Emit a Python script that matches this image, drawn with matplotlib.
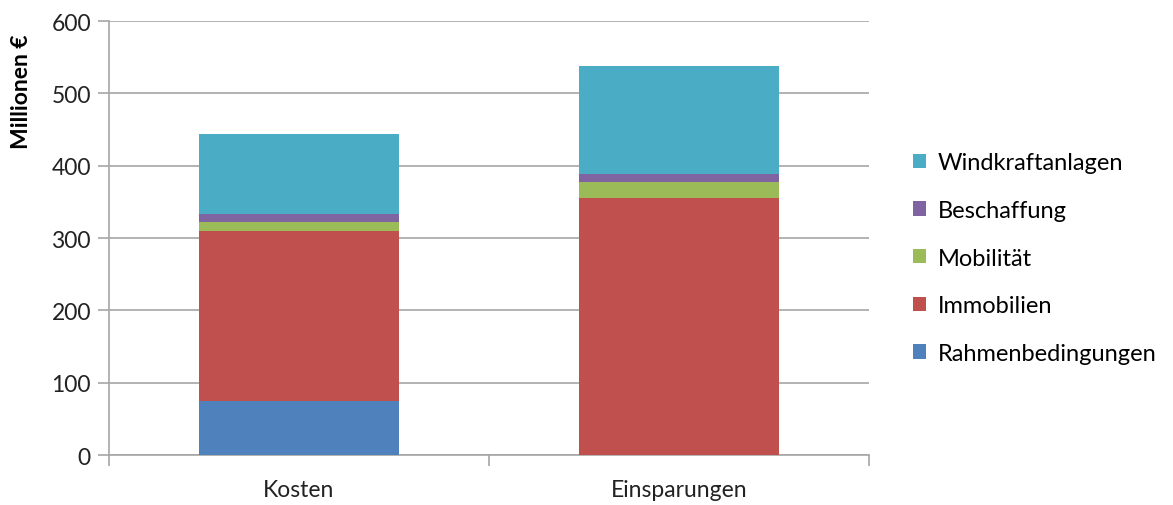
import matplotlib
matplotlib.use("Agg")
import matplotlib.pyplot as plt
import numpy as np

plt.rcParams['font.family'] = ['Lato', 'DejaVu Sans']

categories = ["Kosten", "Einsparungen"]
series = ["Rahmenbedingungen", "Immobilien", "Mobilität", "Beschaffung", "Windkraftanlagen"]
rahmen = [75, 0]
immobilien = [235, 355]
mobilitaet = [12, 22]
beschaffung = [11, 11]
windkraft = [111, 150]
colors = ["#4F81BD", "#C0504D", "#9BBB59", "#8064A2", "#4BACC6"]

values = [rahmen, immobilien, mobilitaet, beschaffung, windkraft]

fig = plt.figure(figsize=(11.73, 5.06), dpi=100)
ax = fig.add_axes([0.0929, 0.0988, 0.6479, 0.8577])

x = np.arange(len(categories))
bottom = np.zeros(len(categories))
handles = []
for name, vals, c in zip(series, values, colors):
    h = ax.bar(x, vals, bottom=bottom, width=0.526, color=c, label=name, zorder=3)
    handles.append(h)
    bottom += np.array(vals)

ax.set_xlim(-0.5, 1.5)
ax.set_ylim(0, 600)
ax.set_yticks(range(0, 601, 100))
ax.yaxis.grid(True, color="#A6A6A6", linewidth=1.2, zorder=0)
ax.set_axisbelow(True)

for s in ["top", "right"]:
    ax.spines[s].set_visible(False)
for s in ["left", "bottom"]:
    ax.spines[s].set_color("#A6A6A6")
    ax.spines[s].set_linewidth(1.2)

ax.set_xticks(x)
ax.set_xticklabels(categories, fontsize=16.5, color="#222222")
ax.tick_params(axis="x", length=0, pad=17)
ax.set_xticks([-0.5, 0.5, 1.5], minor=True)
ax.tick_params(axis="x", which="minor", length=8, color="#A6A6A6", width=1.2)
ax.tick_params(axis="y", length=8, color="#A6A6A6", width=1.2, labelsize=16.5,
               labelcolor="#222222", pad=5)

fig.text(0.018, 0.818, "Millionen €", rotation=90, fontsize=16.5, fontweight="bold",
         ha="center", va="center")

leg = fig.legend(handles[::-1], series[::-1], loc="center left",
                 bbox_to_anchor=(0.76, 0.488), frameon=False, fontsize=17,
                 handlelength=0.55, handleheight=0.55, handletextpad=0.5,
                 labelspacing=1.13)

fig.savefig("out.png", dpi=100)
